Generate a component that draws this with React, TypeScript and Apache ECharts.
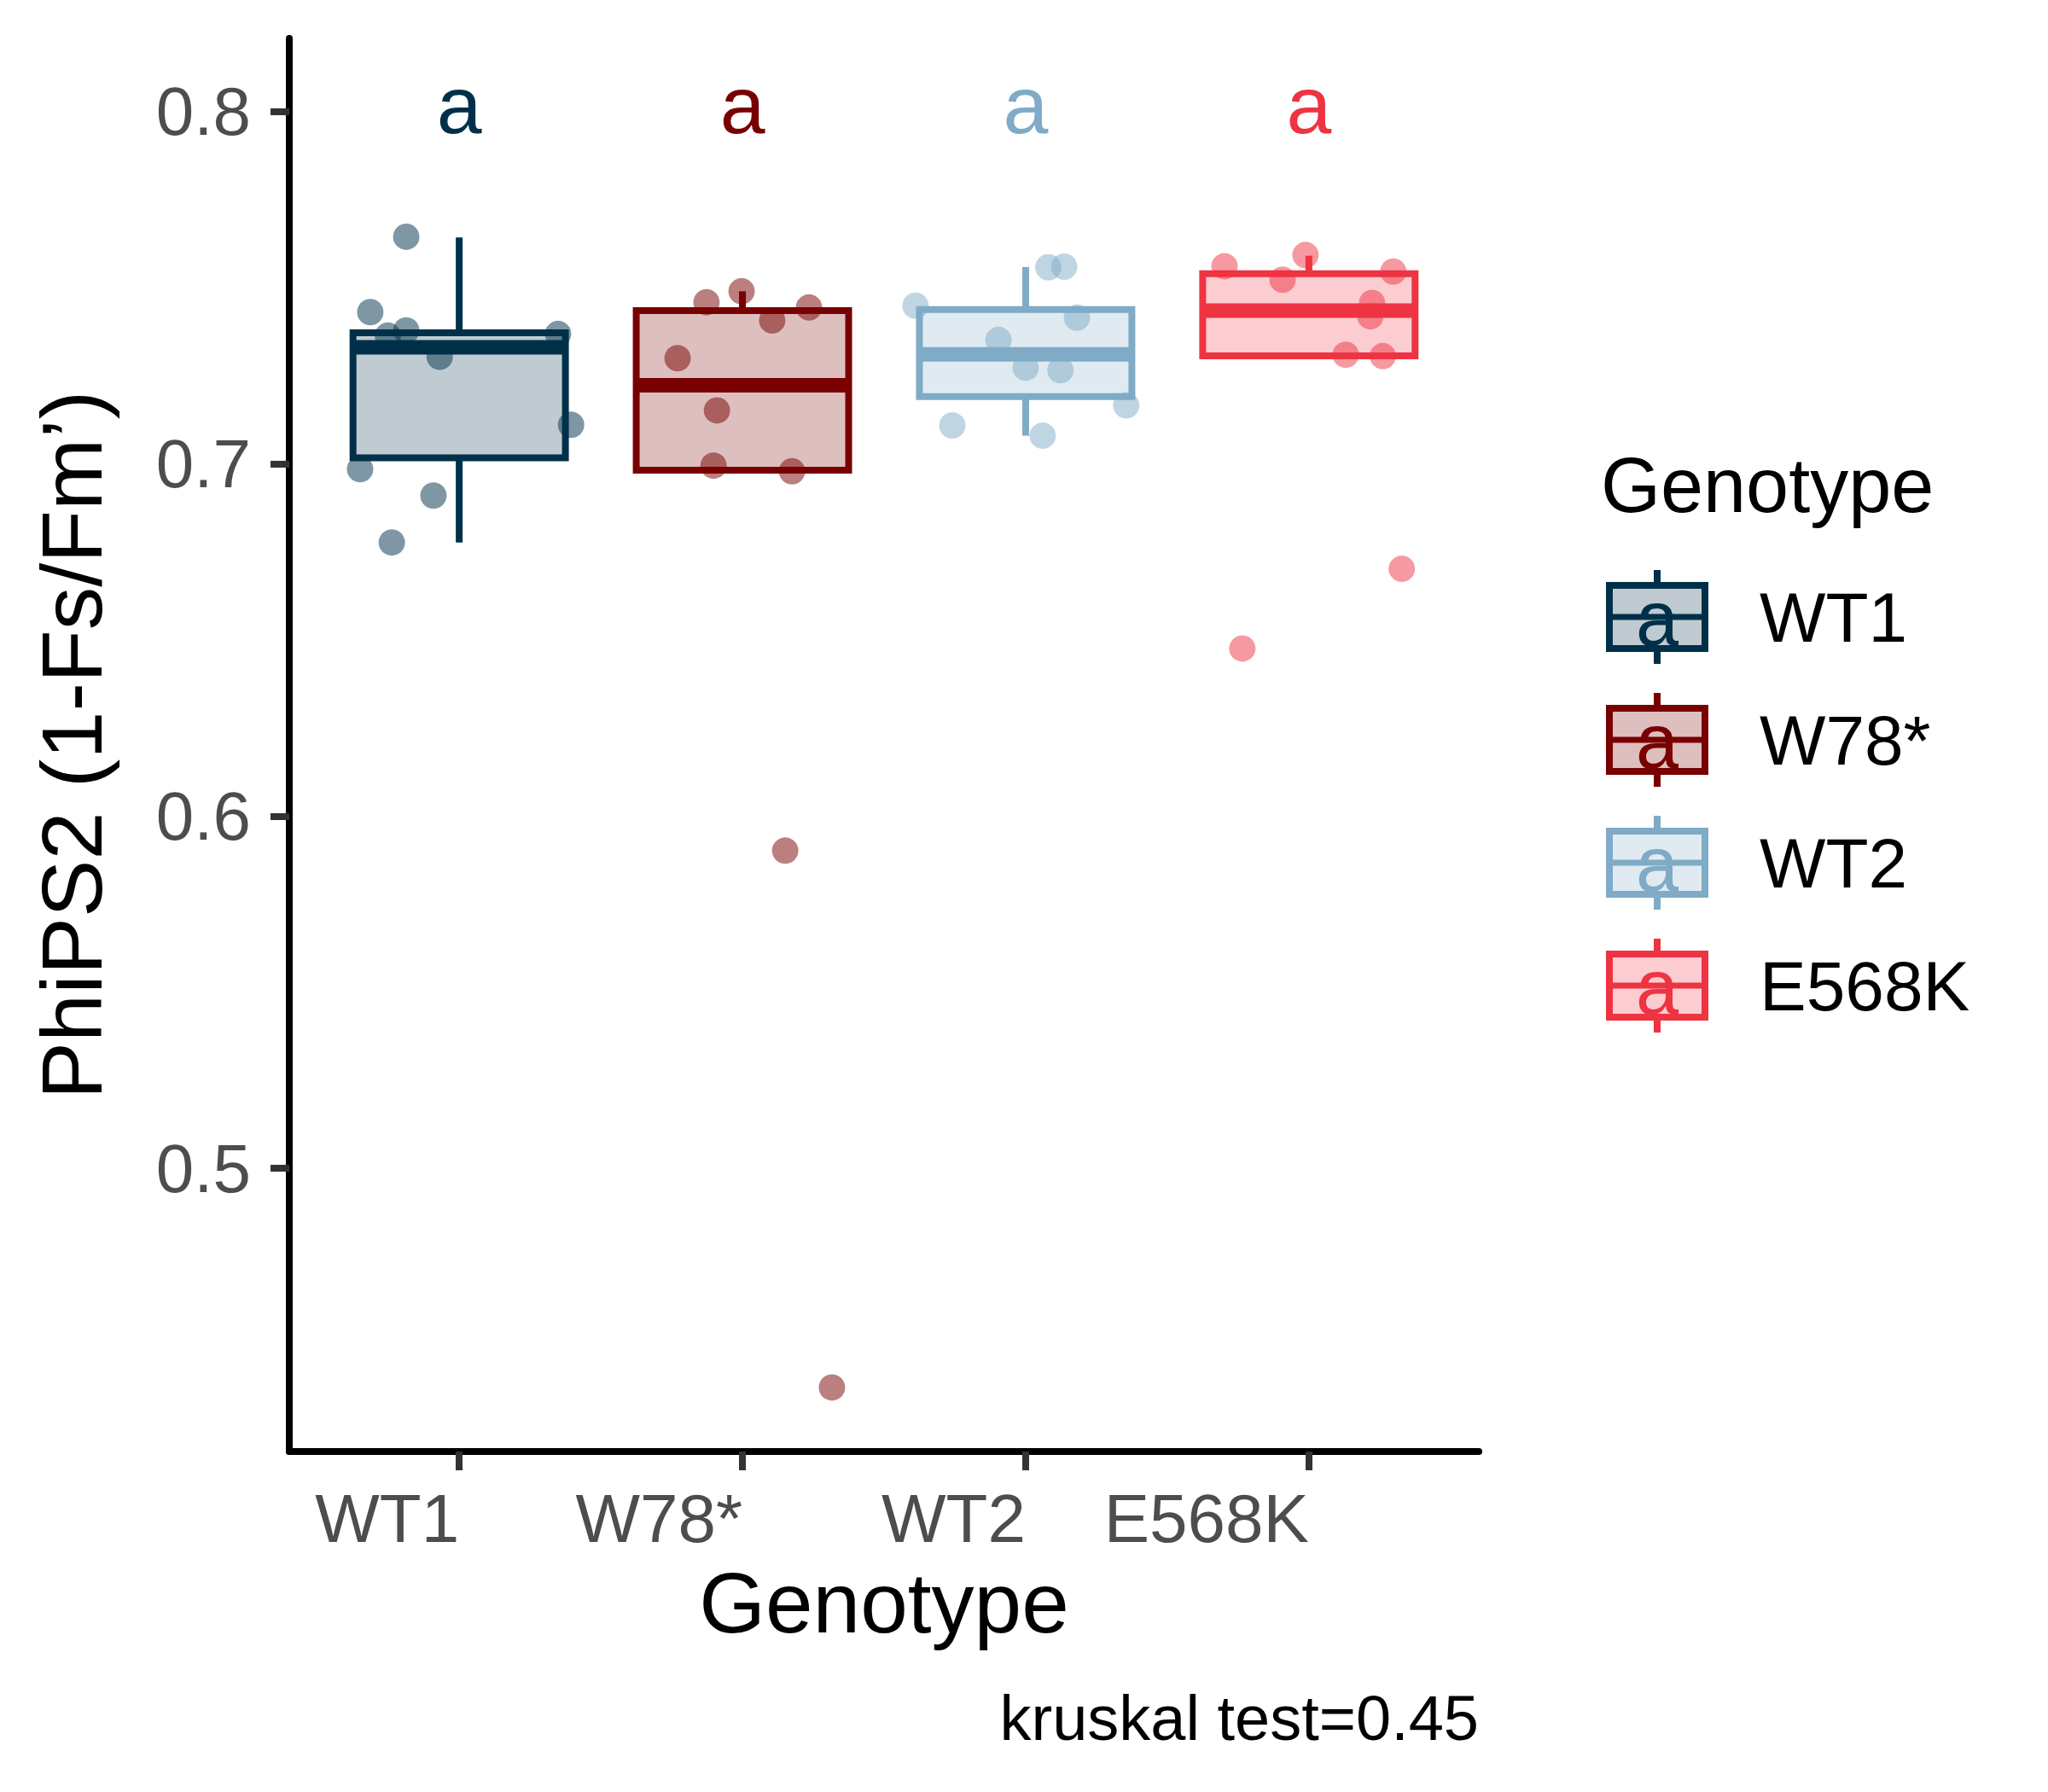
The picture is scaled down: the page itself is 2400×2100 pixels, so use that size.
import React, { useEffect, useRef } from 'react';
import * as echarts from 'echarts';

// ---------- data ----------
const categories = ['WT1', 'W78*', 'WT2', 'E568K'];
const groupColors = ['#003049', '#780000', '#7FABC6', '#EE3342'];

const wt1Values = [0.7645, 0.7431, 0.7364, 0.7379, 0.7369, 0.7304, 0.7111, 0.6985, 0.691, 0.6777];
const wt1Offsets = [-0.187, -0.314, -0.252, -0.187, 0.349, -0.069, 0.395, -0.35, -0.091, -0.238];

const w78Values = [0.7459, 0.749, 0.7444, 0.7407, 0.73, 0.7152, 0.6995, 0.6979, 0.5902, 0.4378];
const w78Offsets = [-0.127, -0.003, 0.235, 0.105, -0.229, -0.09, -0.102, 0.175, 0.151, 0.316];

const wt2Values = [0.7558, 0.756, 0.7449, 0.7415, 0.7352, 0.7273, 0.7266, 0.7166, 0.7109, 0.708];
const wt2Offsets = [0.08, 0.136, -0.389, 0.181, -0.096, 0.0, 0.123, 0.355, -0.259, 0.06];

const e568kValues = [0.7561, 0.7593, 0.7546, 0.7523, 0.7457, 0.7419, 0.731, 0.7306, 0.6702, 0.6476];
const e568kOffsets = [-0.298, -0.012, 0.298, -0.093, 0.223, 0.217, 0.13, 0.261, 0.328, -0.235];

const boxMin = [0.6777, 0.6982, 0.708, 0.7307];
const boxQ1 = [0.7017, 0.6982, 0.7191, 0.7307];
const boxMedian = [0.7331, 0.7223, 0.7311, 0.7435];
const boxQ3 = [0.7372, 0.7435, 0.7438, 0.754];
const boxMax = [0.7643, 0.749, 0.7559, 0.7591];

const letters = ['a', 'a', 'a', 'a'];
const letterY = 0.8;

const yTicks = [0.5, 0.6, 0.7, 0.8];
const xTicks = [1, 2, 3, 4];

const yTitle = 'PhiPS2 (1-Fs/Fm\u2019)';
const xTitle = 'Genotype';
const legendTitle = 'Genotype';
const kruskalText = 'kruskal test=0.45';

const FONT = 'Liberation Sans, Arial, Helvetica, sans-serif';

function rgba(hex: string, a: number) {
  const h = hex.replace('#', '');
  const r = parseInt(h.slice(0, 2), 16);
  const g = parseInt(h.slice(2, 4), 16);
  const b = parseInt(h.slice(4, 6), 16);
  return `rgba(${r},${g},${b},${a})`;
}

export default function App() {
  const ref = useRef<HTMLDivElement>(null);

  useEffect(() => {
    if (!ref.current) return;
    const chart = echarts.init(ref.current, null, { renderer: 'svg' });

    const groups = [
      { values: wt1Values, offsets: wt1Offsets },
      { values: w78Values, offsets: w78Offsets },
      { values: wt2Values, offsets: wt2Offsets },
      { values: e568kValues, offsets: e568kOffsets },
    ];

    const scatterSeries = groups.map((g, i) => ({
      type: 'scatter',
      name: categories[i],
      z: 2,
      silent: true,
      symbol: 'circle',
      symbolSize: 31,
      itemStyle: { color: groupColors[i], opacity: 0.5, borderWidth: 0 },
      data: g.values.map((v, k) => [i + 1 + g.offsets[k], v]),
    }));

    const boxData = categories.map((_, i) => [i + 1, boxMin[i], boxQ1[i], boxMedian[i], boxQ3[i], boxMax[i]]);
    const boxHalfWidth = 0.375;

    const boxSeries = {
      type: 'custom',
      z: 3,
      silent: true,
      encode: { x: 0, y: [1, 2, 3, 4, 5] },
      data: boxData,
      renderItem: (params: any, api: any) => {
        const i = params.dataIndex;
        const c = groupColors[i];
        const x = api.value(0);
        const hw = api.size([boxHalfWidth, 0])[0];
        const pMin = api.coord([x, api.value(1)]);
        const pQ1 = api.coord([x, api.value(2)]);
        const pMed = api.coord([x, api.value(3)]);
        const pQ3 = api.coord([x, api.value(4)]);
        const pMax = api.coord([x, api.value(5)]);
        const cx = pMin[0];
        return {
          type: 'group',
          children: [
            {
              type: 'line',
              shape: { x1: cx, y1: pQ3[1], x2: cx, y2: pMax[1] },
              style: { stroke: c, lineWidth: 8 },
            },
            {
              type: 'line',
              shape: { x1: cx, y1: pQ1[1], x2: cx, y2: pMin[1] },
              style: { stroke: c, lineWidth: 8 },
            },
            {
              type: 'rect',
              shape: { x: cx - hw, y: pQ3[1], width: 2 * hw, height: pQ1[1] - pQ3[1] },
              style: { fill: rgba(c, 0.25), stroke: c, lineWidth: 8, lineJoin: 'miter' },
            },
            {
              type: 'line',
              shape: { x1: cx - hw, y1: pMed[1], x2: cx + hw, y2: pMed[1] },
              style: { stroke: c, lineWidth: 17 },
            },
          ],
        };
      },
    };

    const letterSeries = {
      type: 'custom',
      z: 4,
      silent: true,
      encode: { x: 0, y: 1 },
      data: letters.map((_, i) => [i + 1, letterY]),
      renderItem: (params: any, api: any) => {
        const i = params.dataIndex;
        const p = api.coord([api.value(0), api.value(1)]);
        return {
          type: 'text',
          x: p[0],
          y: p[1] - 8,
          style: {
            text: letters[i],
            fill: groupColors[i],
            fontSize: 95,
            fontFamily: FONT,
            align: 'center',
            verticalAlign: 'middle',
          },
        };
      },
    };

    // legend drawn with graphic elements built from categories / colours
    const legendX = 1942;
    const legendKeyW = 112;
    const legendKeyH = 74;
    const legendCenters = [723, 867, 1011, 1155];
    const legendElems: any[] = [];
    legendElems.push({
      type: 'text',
      x: 1876,
      y: 569,
      style: {
        text: legendTitle,
        fill: '#000',
        fontSize: 90,
        fontFamily: FONT,
        align: 'left',
        verticalAlign: 'middle',
      },
    });
    categories.forEach((cat, i) => {
      const cy = legendCenters[i];
      const c = groupColors[i];
      legendElems.push(
        {
          type: 'line',
          shape: { x1: legendX, y1: cy - 55, x2: legendX, y2: cy - legendKeyH / 2 },
          style: { stroke: c, lineWidth: 8 },
        },
        {
          type: 'line',
          shape: { x1: legendX, y1: cy + legendKeyH / 2, x2: legendX, y2: cy + 55 },
          style: { stroke: c, lineWidth: 8 },
        },
        {
          type: 'rect',
          shape: { x: legendX - legendKeyW / 2, y: cy - legendKeyH / 2, width: legendKeyW, height: legendKeyH },
          style: { fill: rgba(c, 0.25), stroke: c, lineWidth: 8 },
        },
        {
          type: 'line',
          shape: { x1: legendX - legendKeyW / 2, y1: cy, x2: legendX + legendKeyW / 2, y2: cy },
          style: { stroke: c, lineWidth: 7 },
        },
        {
          type: 'text',
          x: legendX,
          y: cy + 2,
          style: {
            text: letters[i],
            fill: c,
            fontSize: 90,
            fontFamily: FONT,
            align: 'center',
            verticalAlign: 'middle',
          },
        },
        {
          type: 'text',
          x: 2062,
          y: cy,
          style: {
            text: cat,
            fill: '#000',
            fontSize: 82,
            fontFamily: FONT,
            align: 'left',
            verticalAlign: 'middle',
          },
        }
      );
    });

    const option: any = {
      animation: false,
      backgroundColor: '#ffffff',
      grid: { left: 339, right: 667, top: 45, bottom: 399, containLabel: false },
      xAxis: {
        type: 'value',
        min: 0.4,
        max: 4.6,
        splitLine: { show: false },
        axisLine: { show: true, onZero: false, lineStyle: { color: '#000', width: 8 } },
        axisTick: { show: true, customValues: xTicks, length: 22, lineStyle: { color: '#333333', width: 8 } },
        axisLabel: {
          show: true,
          customValues: xTicks,
          formatter: (v: number) => categories[Math.round(v) - 1] ?? '',
          align: 'right',
          fontSize: 80,
          lineHeight: 80,
          color: '#4D4D4D',
          fontFamily: FONT,
          margin: 38,
        },
      },
      yAxis: {
        type: 'value',
        min: 0.4196,
        max: 0.8208,
        splitLine: { show: false },
        axisLine: { show: true, onZero: false, lineStyle: { color: '#000', width: 8 } },
        axisTick: { show: true, customValues: yTicks, length: 22, lineStyle: { color: '#333333', width: 8 } },
        axisLabel: {
          show: true,
          customValues: yTicks,
          formatter: (v: number) => v.toFixed(1),
          fontSize: 80,
          color: '#4D4D4D',
          fontFamily: FONT,
          margin: 45,
        },
      },
      series: [...scatterSeries, boxSeries, letterSeries],
      graphic: [
        {
          type: 'text',
          x: 84,
          y: 873,
          rotation: Math.PI / 2,
          style: {
            text: yTitle,
            fill: '#000',
            fontSize: 101,
            fontFamily: FONT,
            align: 'center',
            verticalAlign: 'middle',
          },
        },
        {
          type: 'text',
          x: 1036,
          y: 1878,
          style: {
            text: xTitle,
            fill: '#000',
            fontSize: 100,
            fontFamily: FONT,
            align: 'center',
            verticalAlign: 'middle',
          },
        },
        {
          type: 'text',
          x: 1733,
          y: 2013,
          style: {
            text: kruskalText,
            fill: '#000',
            fontSize: 74,
            fontFamily: FONT,
            align: 'right',
            verticalAlign: 'middle',
          },
        },
        ...legendElems,
      ],
    };

    chart.setOption(option);
    return () => chart.dispose();
  }, []);

  return (
    <div
      ref={ref}
      style={{ position: 'absolute', left: 0, top: 0, width: 2400, height: 2100, background: '#fff' }}
    />
  );
}
